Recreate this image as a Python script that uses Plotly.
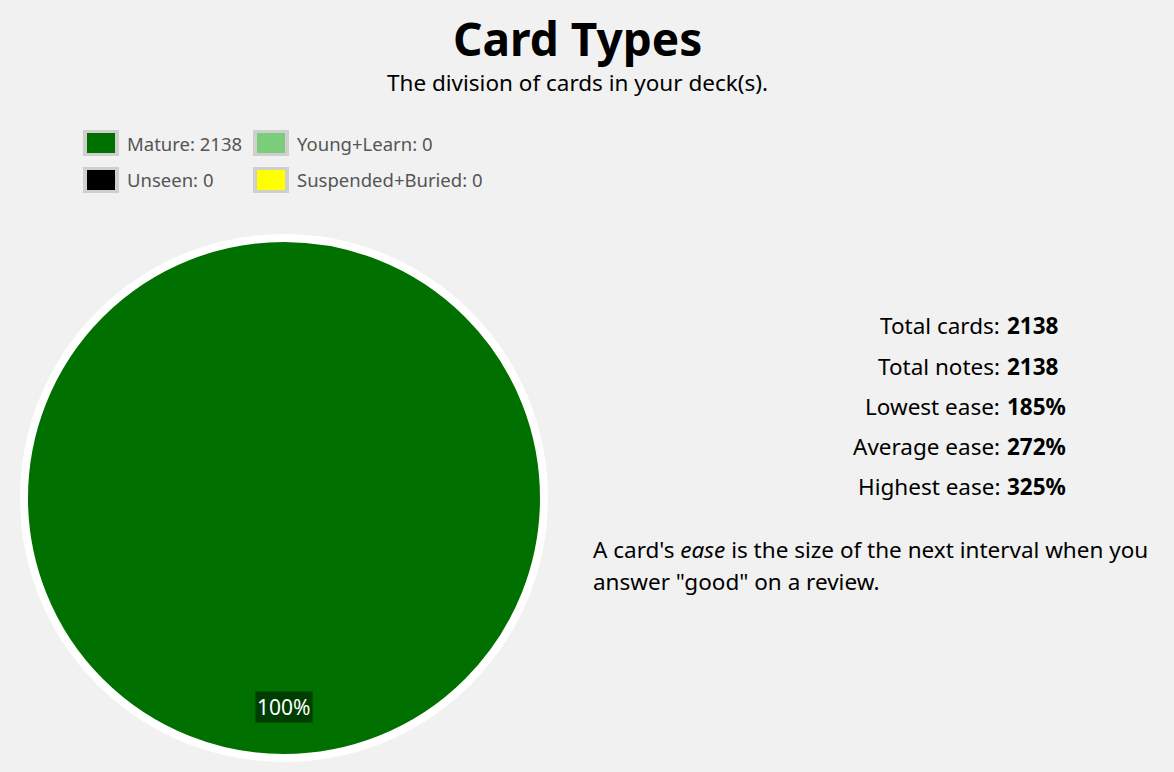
import plotly.graph_objects as go

W, H = 1174, 772

# ---- data ----
labels = ["Mature", "Young+Learn", "Unseen", "Suspended+Buried"]
values = [2138, 0, 0, 0]
colors = ["#007000", "#7bcc7b", "#000000", "#ffff00"]

stat_labels = ["Total cards:", "Total notes:", "Lowest ease:", "Average ease:", "Highest ease:"]
stat_values = ["2138", "2138", "185%", "272%", "325%"]

title = "Card Types"
subtitle = "The division of cards in your deck(s)."
note_lines = ["A card's <i>ease</i> is the size of the next interval when you",
              "answer \"good\" on a review."]

FONT = "Noto Sans"


def px(x):
    return x / W


def py(y):
    return 1 - y / H


# only slices with a value are drawn (zero slices would add a radial seam)
nz = [i for i, v in enumerate(values) if v > 0]

fig = go.Figure()

fig.add_trace(go.Pie(
    labels=[labels[i] for i in nz],
    values=[values[i] for i in nz],
    sort=False,
    direction="clockwise",
    marker=dict(colors=[colors[i] for i in nz], line=dict(color="#ffffff", width=8)),
    textinfo="none",
    hoverinfo="label+value+percent",
    showlegend=False,
    domain=dict(x=[px(24), px(544)], y=[py(758), py(238)]),
))

annotations = []
shapes = []

# title / subtitle
annotations.append(dict(x=px(577), y=py(38), text=f"<b>{title}</b>", showarrow=False,
                        font=dict(family=FONT, size=46, color="#000"), xanchor="center", yanchor="middle"))
annotations.append(dict(x=px(577), y=py(83), text=subtitle, showarrow=False,
                        font=dict(family=FONT, size=22.5, color="#000"), xanchor="center", yanchor="middle"))

# legend (2 x 2 grid)
leg_cols = [83, 253]
leg_rows = [143, 180]
for i, (lab, val, col) in enumerate(zip(labels, values, colors)):
    cx = leg_cols[i % 2]
    cy = leg_rows[i // 2]
    shapes.append(dict(type="rect", xref="paper", yref="paper",
                       x0=px(cx), x1=px(cx + 36), y0=py(cy - 13), y1=py(cy + 13),
                       fillcolor="#cfcfcf", line=dict(width=0), layer="above"))
    shapes.append(dict(type="rect", xref="paper", yref="paper",
                       x0=px(cx + 4), x1=px(cx + 32), y0=py(cy - 10), y1=py(cy + 10),
                       fillcolor=col, line=dict(width=0), layer="above"))
    annotations.append(dict(x=px(cx + 42), y=py(cy), text=f"{lab}: {val}", showarrow=False,
                            font=dict(family=FONT, size=18.5, color="#555"),
                            xanchor="left", yanchor="middle"))

# percentage label
pct = values[0] / sum(values) * 100
annotations.append(dict(x=px(284), y=py(707), text=f"{pct:.0f}%", showarrow=False,
                        font=dict(family=FONT, size=21, color="#ffffff"),
                        bgcolor="#003d00", borderpad=1, xanchor="center", yanchor="middle"))

# stats table
for i, (sl, sv) in enumerate(zip(stat_labels, stat_values)):
    y = 326 + 40 * i
    annotations.append(dict(x=px(1002), y=py(y), text=sl, showarrow=False,
                            font=dict(family=FONT, size=22.5, color="#000"),
                            xanchor="right", yanchor="middle"))
    annotations.append(dict(x=px(1005), y=py(y), text=f"<b>{sv}</b>", showarrow=False,
                            font=dict(family=FONT, size=22.5, color="#000"),
                            xanchor="left", yanchor="middle"))

for i, line in enumerate(note_lines):
    annotations.append(dict(x=px(591), y=py(549 + 32 * i), text=line, showarrow=False,
                            font=dict(family=FONT, size=22.5, color="#000"),
                            xanchor="left", yanchor="middle", align="left"))

fig.update_layout(
    width=W, height=H,
    margin=dict(l=0, r=0, t=0, b=0),
    paper_bgcolor="#f1f1f1",
    plot_bgcolor="#f1f1f1",
    annotations=annotations,
    shapes=shapes,
    showlegend=False,
)

fig.write_html("out.html")
